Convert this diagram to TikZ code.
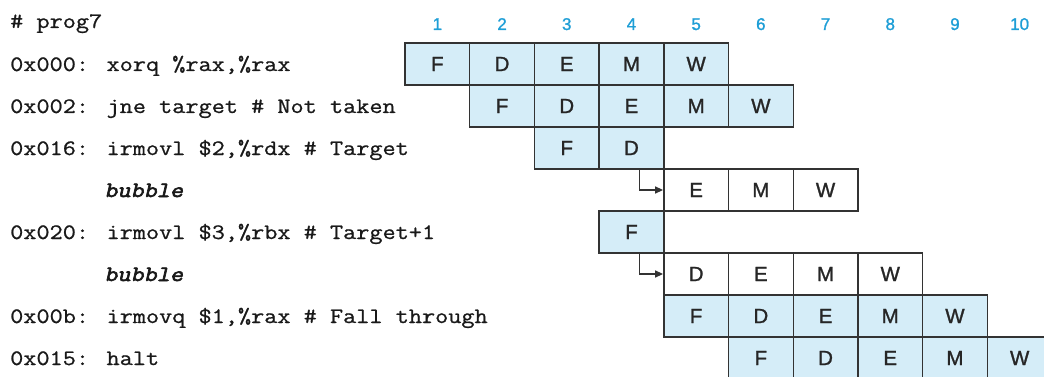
\documentclass[tikz,border=0pt]{standalone}
\usepackage{fontspec}
\newfontfamily\stagefont[FakeBold=1.2]{Liberation Sans}
\newfontfamily\codefont[FakeBold=0.8]{Latin Modern Mono}
\newfontfamily\bubblefont[FakeBold=2.6,FakeSlant=0.2]{Latin Modern Mono}
\usetikzlibrary{arrows.meta}
\definecolor{boxfill}{HTML}{D5EDF8}
\definecolor{boxline}{HTML}{333333}
\definecolor{numblue}{HTML}{1E9ED6}
\newcommand{\codetxt}[1]{\scalebox{1.16}[1]{\fontsize{22}{26}\selectfont\codefont #1}}
\newcommand{\bubbletxt}[1]{\scalebox{1.16}[1]{\fontsize{22}{26}\selectfont\bubblefont #1}}
\newcommand{\stagetxt}[1]{{\stagefont\fontsize{20.5}{24}\selectfont #1}}
\newcommand{\numtxt}[1]{{\stagefont\fontsize{17}{20}\selectfont #1}}
\tikzset{
  stage/.style={draw=boxline, line width=1.4pt, minimum width=64.7pt, minimum height=42pt,
    inner sep=0pt, text=black!85, fill=boxfill},
  bubblestage/.style={stage, fill=white},
  codeline/.style={anchor=base west, inner sep=0pt, text=black!90},
  cyclenum/.style={anchor=base, inner sep=0pt, text=numblue},
  stall/.style={draw=boxline, line width=1.3pt, -{Triangle[length=8pt,width=7pt]}}
}
\begin{document}
\begin{tikzpicture}[x=1pt,y=-1pt]
\useasboundingbox (0,0) rectangle (1044,377);
\clip (0,0) rectangle (1044,377);
% column numbers
\foreach \k in {1,...,10} {
  \node[cyclenum] (n\k) at ({405+64.7*(\k-0.5)},30) {\numtxt{\k}};
}
% code lines
\node[codeline] (t0) at (10,28) {\codetxt{\# prog7}};
\node[codeline] (t1) at (10,71) {\codetxt{0x000: xorq \%rax,\%rax}};
\node[codeline] (t2) at (10,113) {\codetxt{0x002: jne target \# Not taken}};
\node[codeline] (t3) at (10,155) {\codetxt{0x016: irmovl \$2,\%rdx \# Target}};
\node[codeline] (t4) at (104,197) {\bubbletxt{bubble}};
\node[codeline] (t5) at (10,239) {\codetxt{0x020: irmovl \$3,\%rbx \# Target+1}};
\node[codeline] (t6) at (104,281) {\bubbletxt{bubble}};
\node[codeline] (t7) at (10,323) {\codetxt{0x00b: irmovq \$1,\%rax \# Fall through}};
\node[codeline] (t8) at (10,365) {\codetxt{0x015: halt}};
% stage boxes: row, starting column, list
\foreach \r/\c/\lst/\sty in {1/1/{F,D,E,M,W}/stage, 2/2/{F,D,E,M,W}/stage, 3/3/{F,D}/stage,
    4/5/{E,M,W}/bubblestage, 5/4/{F}/stage, 6/5/{D,E,M,W}/bubblestage,
    7/5/{F,D,E,M,W}/stage, 8/6/{F,D,E,M,W}/stage} {
  \foreach \s [count=\i from 0] in \lst {
    \pgfmathtruncatemacro{\col}{\c+\i}
    \node[\sty] (r\r c\col) at ({405+64.7*(\col-0.5)},{43+21+42*(\r-1)}) {\stagetxt{\s}};
  }
}
% stall arrows
\draw[stall] ([xshift=8pt]r3c4.south) |- (r4c5.west);
\draw[stall] ([xshift=8pt]r5c4.south) |- (r6c5.west);
\end{tikzpicture}
\end{document}
